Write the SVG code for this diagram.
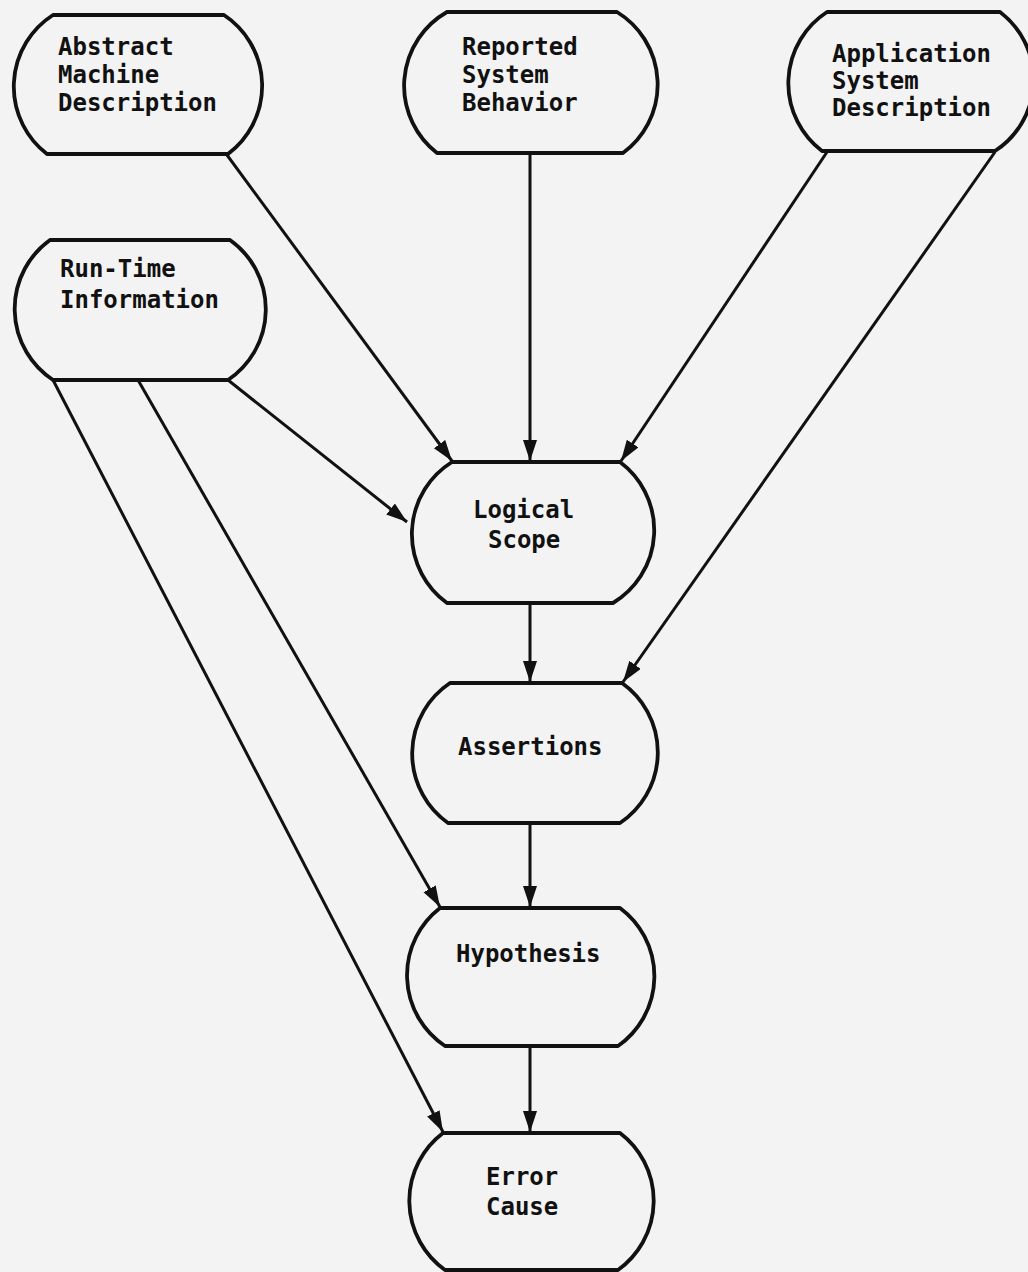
<svg xmlns="http://www.w3.org/2000/svg" width="1028" height="1272" viewBox="0 0 1028 1272">
  <defs>
    <marker id="arrow" markerUnits="userSpaceOnUse" markerWidth="24" markerHeight="16" refX="21" refY="7" orient="auto">
      <path d="M0,0 L21,7 L0,14 Z" fill="#111"/>
    </marker>
  </defs>
  <style>
    .node path { fill: none; stroke: #111; stroke-width: 3.8; stroke-linejoin: round; }
    .node text { font-family: "DejaVu Sans Mono", "Liberation Mono", monospace; font-size: 24px; font-weight: bold; fill: #111; }
    #connectors line { stroke: #111; stroke-width: 3; marker-end: url(#arrow); }
  </style>
  <rect x="0" y="0" width="1028" height="1272" fill="#f3f3f3"/>

  <g id="connectors">
    <line x1="227" y1="155" x2="452" y2="461"/>
    <line x1="530" y1="153" x2="530" y2="461"/>
    <line x1="827" y1="152" x2="621" y2="461"/>
    <line x1="995" y1="152" x2="623" y2="682"/>
    <line x1="228" y1="380" x2="407" y2="522"/>
    <line x1="138" y1="380" x2="440" y2="907"/>
    <line x1="53" y1="380" x2="443" y2="1132"/>
    <line x1="530" y1="603" x2="530" y2="682"/>
    <line x1="530" y1="823" x2="530" y2="907"/>
    <line x1="530" y1="1046" x2="530" y2="1132"/>
  </g>

  <g id="abstract-machine" class="node">
    <path d="M53,15 L224,15 A85,85 0 0 1 228,154 L47,154 A85,85 0 0 1 53,15 Z"/>
    <text x="58" y="55">Abstract</text>
    <text x="58" y="83">Machine</text>
    <text x="58" y="111">Description</text>
  </g>

  <g id="reported-behavior" class="node">
    <path d="M447,12 L617,12 A85,85 0 0 1 623,153 L437,153 A85,85 0 0 1 447,12 Z"/>
    <text x="462" y="55">Reported</text>
    <text x="462" y="83">System</text>
    <text x="462" y="111">Behavior</text>
  </g>

  <g id="application-system" class="node">
    <path d="M827,12 L1000,12 A85,85 0 0 1 995,151 L822,151 A85,85 0 0 1 827,12 Z"/>
    <text x="832" y="62">Application</text>
    <text x="832" y="89">System</text>
    <text x="832" y="116">Description</text>
  </g>

  <g id="run-time" class="node">
    <path d="M50,240 L230,240 A85,85 0 0 1 228,380 L53,380 A85,85 0 0 1 50,240 Z"/>
    <text x="60" y="277">Run-Time</text>
    <text x="60" y="308">Information</text>
  </g>

  <g id="logical-scope" class="node">
    <path d="M452,462 L620,462 A85,85 0 0 1 613,603 L447,603 A85,85 0 0 1 452,462 Z"/>
    <text x="473" y="518">Logical</text>
    <text x="488" y="548">Scope</text>
  </g>

  <g id="assertions" class="node">
    <path d="M450,683 L622,683 A85,85 0 0 1 620,823 L448,823 A85,85 0 0 1 450,683 Z"/>
    <text x="458" y="755">Assertions</text>
  </g>

  <g id="hypothesis" class="node">
    <path d="M440,908 L620,908 A85,85 0 0 1 618,1046 L445,1046 A85,85 0 0 1 440,908 Z"/>
    <text x="456" y="962">Hypothesis</text>
  </g>

  <g id="error-cause" class="node">
    <path d="M443,1133 L620,1133 A85,85 0 0 1 618,1270 L445,1270 A85,85 0 0 1 443,1133 Z"/>
    <text x="486" y="1185">Error</text>
    <text x="486" y="1215">Cause</text>
  </g>
</svg>
